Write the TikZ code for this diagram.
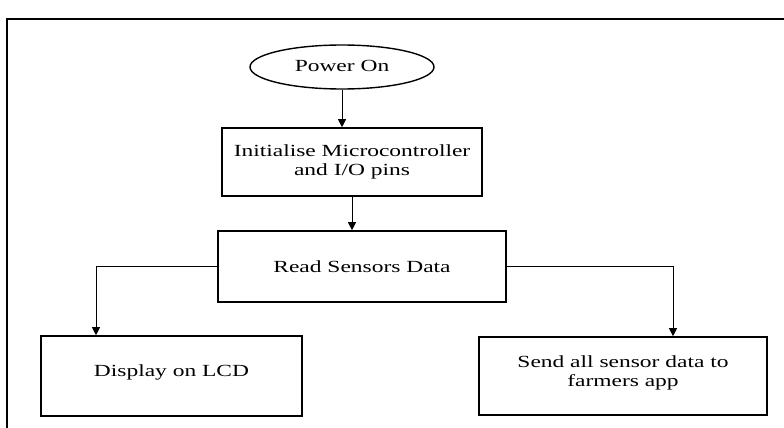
\documentclass[tikz,border=0pt]{standalone}
\usepackage{fontspec}
\setmainfont{Liberation Serif}
\usetikzlibrary{shapes.geometric,arrows.meta}
\newcommand{\wide}[1]{\scalebox{1.38}[1]{#1}}
\begin{document}
\begin{tikzpicture}[x=1pt,y=-1pt,
  txt/.style={align=center,font=\fontsize{17}{19}\selectfont},
  box/.style={draw,line width=1.6pt,rectangle,inner sep=0pt,txt},
  arr/.style={line width=0.8pt,-{Triangle[width=8pt,length=8pt]}},
  frame/.style={line width=2pt}]
\useasboundingbox (0,0) rectangle (784,428);
\draw[frame] (7,432) -- (7,19) -- (790,19);
\node[draw,ellipse,line width=1.4pt,minimum width=184pt,minimum height=44pt,inner sep=0pt,txt] (power) at (342,67) {\wide{Power On}\\[-16pt]};
\node[box,minimum width=260pt,minimum height=68pt] (init) at (352,162) {\wide{Initialise Microcontroller}\\\wide{and I/O pins}};
\node[box,minimum width=288pt,minimum height=71pt] (read) at (362,266.5) {\wide{Read Sensors Data}};
\node[box,minimum width=261pt,minimum height=80pt] (lcd) at (171.5,376) {\wide{Display on LCD}\\[-8pt]};
\node[box,minimum width=288pt,minimum height=78pt] (send) at (623,376) {\wide{Send all sensor data to}\\\wide{farmers app}\\[-10pt]};
\coordinate (lc) at (96,266.5);
\coordinate (rc) at (673,266.5);
\draw[arr] (power.south) -- (power.south |- init.north);
\draw[arr] (init.south) -- (init.south |- read.north);
\draw[arr] (read.west) -- (lc) -- (lc |- lcd.north);
\draw[arr] (read.east) -- (rc) -- (rc |- send.north);
\end{tikzpicture}
\end{document}
